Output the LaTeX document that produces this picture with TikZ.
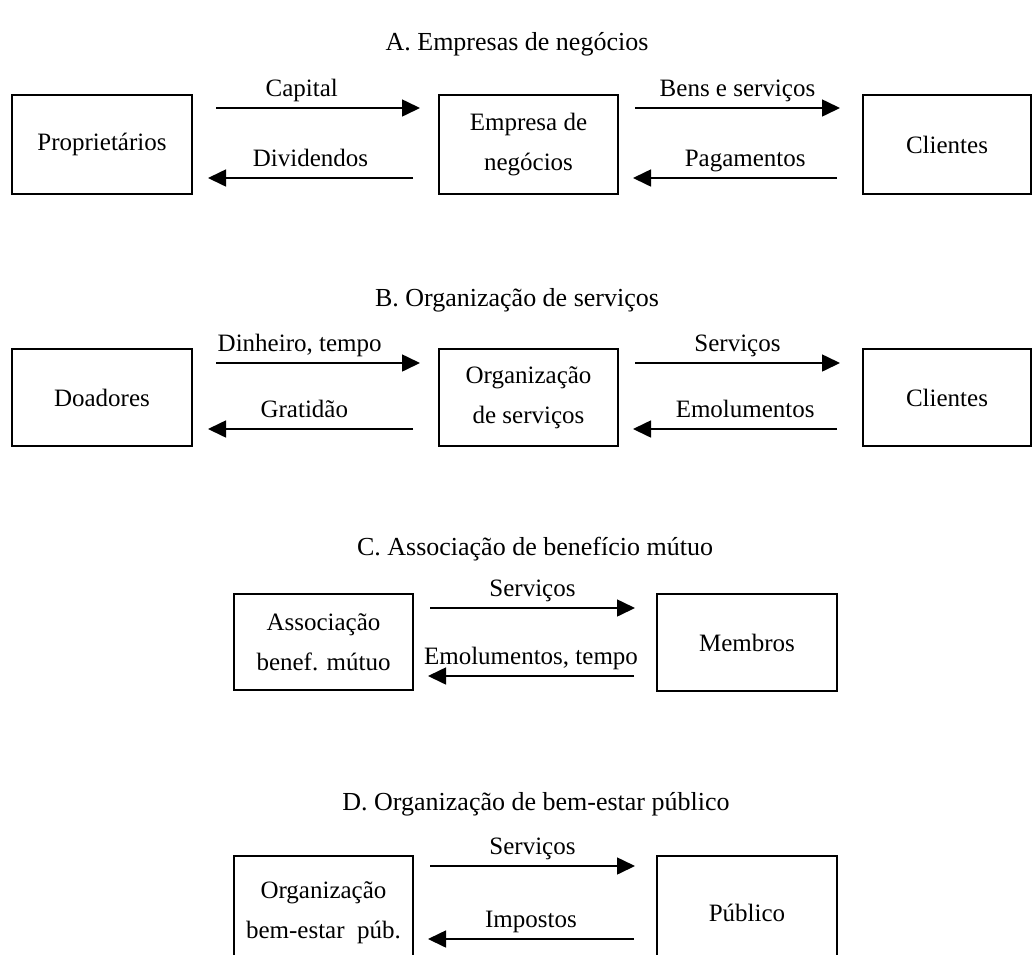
\documentclass[tikz,border=0pt]{standalone}
\usepackage{fontspec}
\setmainfont{Liberation Serif}
\usetikzlibrary{arrows.meta}
\begin{document}
\begin{tikzpicture}[x=1pt,y=1pt,
  box/.style={draw=black,line width=1.6pt,inner sep=0pt,outer sep=0pt,align=center,font=\fontsize{25}{40}\selectfont},
  flow/.style={line width=1.6pt,-{Triangle[length=18pt,width=17pt]}},
  flowtext/.style={anchor=base,yshift=12pt,inner sep=0pt,font=\fontsize{25}{30}\selectfont},
  heading/.style={anchor=base,inner sep=0pt,font=\fontsize{26}{30}\selectfont}]
\useasboundingbox (0,0) rectangle (1034,-954);
\node [heading] (titA) at (517,-50) {A. Empresas de negócios};
\node [box,minimum width=180pt,minimum height=99pt] (prop) at (102,-144.5) {Proprietários};
\node [box,minimum width=179pt,minimum height=99pt] (emp) at (528.5,-144.5) {Empresa de\\negócios};
\node [box,minimum width=168pt,minimum height=99pt] (cliA) at (947,-144.5) {Clientes};
\draw [flow] ([shift={(24,-13)}]prop.north east) -- ([shift={(-19,-13)}]emp.north west) node [flowtext,pos=0.42] (capital) {Capital};
\draw [flow] ([shift={(-26,-83)}]emp.north west) -- ([shift={(16,-83)}]prop.north east) node [flowtext,pos=0.5] (divid) {Dividendos};
\draw [flow] ([shift={(17,-13)}]emp.north east) -- ([shift={(-23,-13)}]cliA.north west) node [flowtext,pos=0.5] (bens) {Bens e serviços};
\draw [flow] ([shift={(-26,-83)}]cliA.north west) -- ([shift={(15,-83)}]emp.north east) node [flowtext,pos=0.45] (pagam) {Pagamentos};
\node [heading] (titB) at (517,-306) {B. Organização de serviços};
\node [box,minimum width=180pt,minimum height=97pt] (doad) at (102,-397.5) {Doadores};
\node [box,minimum width=179pt,minimum height=97pt] (orgserv) at (528.5,-397.5) {Organização\\de serviços};
\node [box,minimum width=168pt,minimum height=97pt] (cliB) at (947,-397.5) {Clientes};
\draw [flow] ([shift={(24,-14)}]doad.north east) -- ([shift={(-19,-14)}]orgserv.north west) node [flowtext,pos=0.41] (dinh) {Dinheiro, tempo};
\draw [flow] ([shift={(-26,-80)}]orgserv.north west) -- ([shift={(16,-80)}]doad.north east) node [flowtext,pos=0.53] (grat) {Gratidão};
\draw [flow] ([shift={(17,-14)}]orgserv.north east) -- ([shift={(-23,-14)}]cliB.north west) node [flowtext,pos=0.5] (servB) {Serviços};
\draw [flow] ([shift={(-26,-80)}]cliB.north west) -- ([shift={(15,-80)}]orgserv.north east) node [flowtext,pos=0.45] (emolB) {Emolumentos};
\node [heading] (titC) at (535,-555) {C. Associação de benefício mútuo};
\node [box,minimum width=179pt,minimum height=96pt] (assoc) at (323.5,-642) {Associação\\benef. mútuo};
\node [box,minimum width=180pt,minimum height=97pt] (memb) at (747,-642.5) {Membros};
\draw [flow] ([shift={(17,-14)}]assoc.north east) -- ([shift={(-22,-14)}]memb.north west) node [flowtext,pos=0.5] (servC) {Serviços};
\draw [flow] ([shift={(-23,-82)}]memb.north west) -- ([shift={(15,-82)}]assoc.north east) node [flowtext,pos=0.5] (emolC) {Emolumentos, tempo};
\node [heading] (titD) at (536,-810) {D. Organização de bem-estar público};
\node [box,minimum width=179pt,minimum height=114pt] (orgpub) at (323.5,-913) {Organização\\bem-estar\hspace{0.5em}púb.};
\node [box,minimum width=180pt,minimum height=114pt] (publ) at (747,-913) {Público};
\draw [flow] ([shift={(17,-10)}]orgpub.north east) -- ([shift={(-22,-10)}]publ.north west) node [flowtext,pos=0.5] (servD) {Serviços};
\draw [flow] ([shift={(-23,-83)}]publ.north west) -- ([shift={(15,-83)}]orgpub.north east) node [flowtext,pos=0.5] (impost) {Impostos};
\end{tikzpicture}
\end{document}
